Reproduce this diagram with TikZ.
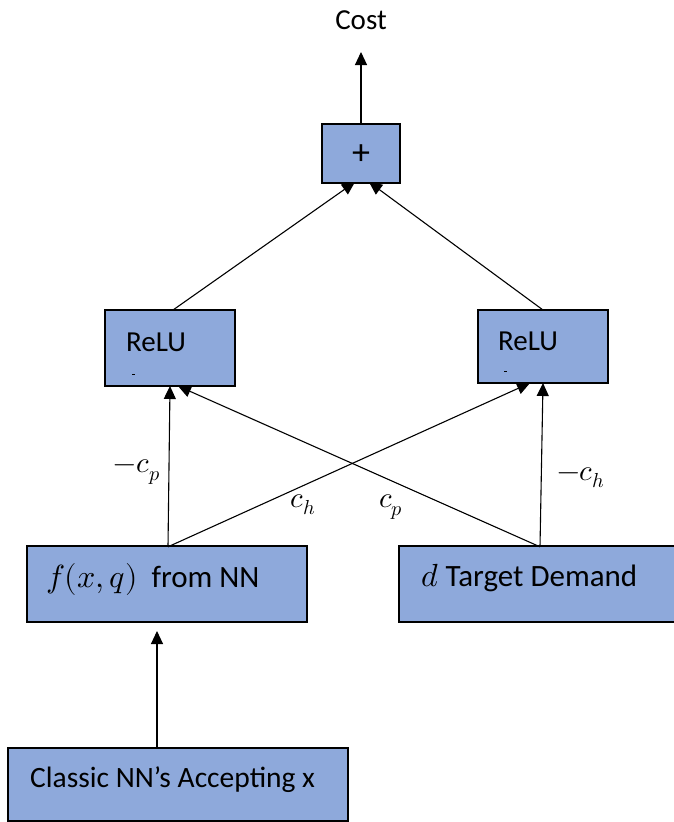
\documentclass[tikz,border=0pt]{standalone}
\usepackage{fontspec}
\usepackage{unicode-math}
\setmainfont{Carlito}
\usetikzlibrary{arrows.meta,calc}
\definecolor{boxblue}{RGB}{142,169,219}
\tikzset{
  blk/.style={draw=black, line width=1.6pt, fill=boxblue, rectangle, inner sep=0pt, outer sep=0pt},
  arr/.style={line width=1.1pt, -{Triangle[length=13pt,width=12pt]}},
  txt/.style={font=\fontsize{31}{34}\selectfont, inner sep=0pt, anchor=west},
  lbl/.style={font=\fontsize{29}{32}\selectfont, inner sep=0pt}
}
\begin{document}
\begin{tikzpicture}[x=1pt,y=-1pt]
\useasboundingbox (0,0) rectangle (674,822);
% boxes
\node[blk, minimum width=78pt, minimum height=59pt] (plus) at (361,153.5) {};
\node[blk, minimum width=130pt, minimum height=76pt] (relu1) at (170,348) {};
\node[blk, minimum width=130pt, minimum height=73pt] (relu2) at (543,346.5) {};
\node[blk, minimum width=280pt, minimum height=76pt] (fbox) at (167,584) {};
\node[blk, minimum width=281pt, minimum height=76pt] (dbox) at (539.5,584) {};
\node[blk, minimum width=340pt, minimum height=73pt] (cbox) at (178,784.5) {};
% texts
\node[lbl] (cost) at (361,20) {Cost};
\node[lbl, font=\fontsize{36}{36}\selectfont] (plustxt) at (361,155) {+};
\node[txt, font=\fontsize{29}{32}\selectfont] (relu1txt) at (126,342) {ReLU};
\node[txt, font=\fontsize{29}{32}\selectfont] (relu2txt) at (498,341) {ReLU};
\node[txt] (ftxt) at (46,579) {{\fontsize{32}{34}\selectfont$f(x,q)$}\ \ from NN};
\node[txt] (dtxt) at (421,578) {{\fontsize{32}{34}\selectfont$d$} Target Demand};
\node[txt, font=\fontsize{29.5}{32}\selectfont] (ctxt) at (30,780) {Classic NN’s Accepting x};
% tiny marks
\draw[line width=1pt] (132,374) -- (135,374);
\draw[line width=0.8pt] (504,371) -- (507,371);
% coordinates
\coordinate (costtip) at (361,52);
\coordinate (ftop) at (168,546.8);
\coordinate (dtop) at (540,546.8);
\coordinate (ctop) at (157,748);
\coordinate (fbot) at (157,631);
% connectors
\draw[arr] (plus.north) -- (costtip);
\draw[arr] ([xshift=3pt]relu1.north) -- ([xshift=-6pt,yshift=1pt]plus.south);
\draw[arr] (relu2.north) -- ([xshift=8pt,yshift=1pt]plus.south);
\draw[arr] (ftop) -- (relu1.south);
\draw[arr] (ftop) -- ([xshift=-13pt]relu2.south);
\draw[arr] (dtop) -- ([xshift=8pt]relu1.south);
\draw[arr] (dtop) -- (relu2.south);
\draw[arr] (ctop) -- (fbot);
% labels
\node[lbl] (lcp) at (137,472) {$-c_p$};
\node[lbl] (lch) at (303,505) {$c_h$};
\node[lbl] (lcp2) at (391,507) {$c_p$};
\node[lbl] (lch2) at (581,478) {$-c_h$};
\end{tikzpicture}
\end{document}
